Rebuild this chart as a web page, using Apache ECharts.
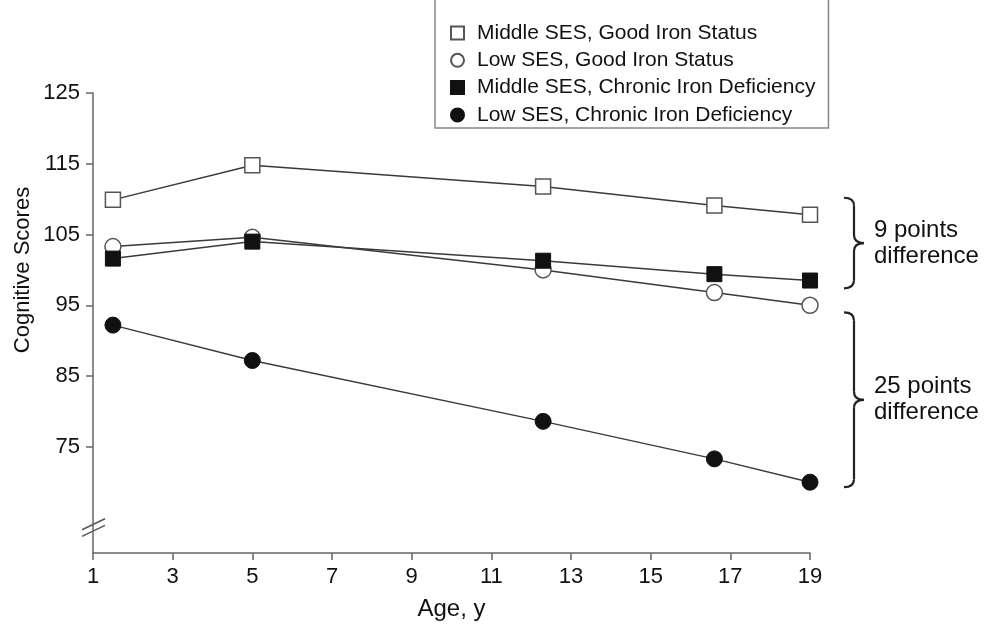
<!DOCTYPE html>
<html>
<head>
<meta charset="utf-8">
<script src="https://cdn.jsdelivr.net/npm/echarts@6/dist/echarts.min.js"></script>
<style>
html, body { margin: 0; padding: 0; background: #fff; }
#main { width: 988px; height: 627px; }
</style>
</head>
<body>
<div id="main"></div>
<script>
var ages = [1.5, 5, 12.3, 16.6, 19];
var midGood = [109.9, 114.8, 111.8, 109.1, 107.8];
var lowGood = [103.3, 104.6, 100.0, 96.8, 95.0];
var midChronic = [101.6, 104.0, 101.3, 99.4, 98.5];
var lowChronic = [92.2, 87.2, 78.6, 73.3, 70.0];

var seriesNames = [
	'Middle SES, Good Iron Status',
	'Low SES, Good Iron Status',
	'Middle SES, Chronic Iron Deficiency',
	'Low SES, Chronic Iron Deficiency'
];
var xTicks = [1, 3, 5, 7, 9, 11, 13, 15, 17, 19];
var yTicks = [75, 85, 95, 105, 115, 125];

// brace annotations on the right: [top, bottom] in score units
var braceRanges = [[110.2, 97.4], [94.0, 69.3]];
var braceLabels = ['9 points\ndifference', '25 points\ndifference'];
var axisBreakAt = 63.6;

var sans = "'Liberation Sans', Arial, sans-serif";

function pairs(ys) {
	var out = [];
	for (var i = 0; i < ages.length; i++) {
		out.push([ages[i], ys[i]]);
	}
	return out;
}

function makeSeries(name, ys, symbol, filled) {
	return {
		name: name,
		type: 'line',
		data: pairs(ys),
		symbol: symbol,
		symbolSize: symbol == 'rect' ? 15 : 16,
		showAllSymbol: true,
		lineStyle: { color: '#3a3a3a', width: 1.5 },
		itemStyle: filled ? { color: '#111', borderColor: '#111', borderWidth: 1 }
		                  : { color: '#fff', borderColor: '#555', borderWidth: 1.5 },
		emphasis: { disabled: true },
		z: filled ? 3 : 2
	};
}

var chart = echarts.init(document.getElementById('main'));

var option = {
	animation: false,
	grid: { left: 93, right: 178, top: 93, bottom: 74 },
	legend: {
		orient: 'vertical',
		left: 435,
		top: -5,
		padding: [27, 13, 2, 15],
		itemGap: 5.3,
		itemWidth: 13,
		itemHeight: 13,
		borderColor: '#888',
		borderWidth: 1.5,
		textStyle: { fontFamily: sans, fontSize: 21, lineHeight: 22, color: '#111', padding: [0, 0, 0, 8] },
		data: [
			{ name: seriesNames[0], icon: 'rect' },
			{ name: seriesNames[1], icon: 'circle' },
			{ name: seriesNames[2], icon: 'rect' },
			{ name: seriesNames[3], icon: 'circle' }
		]
	},
	xAxis: {
		type: 'value',
		min: 1,
		max: 19,
		name: 'Age, y',
		nameLocation: 'middle',
		nameGap: 44,
		nameTextStyle: { fontFamily: sans, fontSize: 24, color: '#111' },
		splitLine: { show: false },
		axisLine: { lineStyle: { color: '#666', width: 1.5 } },
		axisTick: { length: 7, lineStyle: { color: '#666', width: 1.5 }, customValues: xTicks },
		axisLabel: { fontFamily: sans, fontSize: 22, color: '#111', margin: 13, customValues: xTicks }
	},
	yAxis: {
		type: 'value',
		min: 60,
		max: 125,
		splitLine: { show: false },
		axisLine: { show: true, lineStyle: { color: '#666', width: 1.5 } },
		axisTick: { show: true, length: 7, lineStyle: { color: '#666', width: 1.5 }, customValues: yTicks },
		axisLabel: { fontFamily: sans, fontSize: 22, color: '#111', margin: 13, customValues: yTicks }
	},
	series: [
		makeSeries(seriesNames[0], midGood, 'rect', false),
		makeSeries(seriesNames[1], lowGood, 'circle', false),
		makeSeries(seriesNames[2], midChronic, 'rect', true),
		makeSeries(seriesNames[3], lowChronic, 'circle', true)
	]
};

chart.setOption(option);

// annotations placed through the axes
function px(x, y) {
	return chart.convertToPixel({ gridIndex: 0 }, [x, y]);
}

var ink = { stroke: '#222', lineWidth: 2.2, fill: null };
var graphics = [];

var axisX = px(1, 60)[0];
var breakY = px(1, axisBreakAt)[1];
[-3.3, 3.3].forEach(function (d) {
	graphics.push({
		type: 'line',
		shape: { x1: axisX - 11, y1: breakY + d + 5.5, x2: axisX + 12, y2: breakY + d - 5.5 },
		style: { stroke: '#555', lineWidth: 1.5 }
	});
});

function curve(x1, y1, cx, cy, x2, y2) {
	return { type: 'bezierCurve', shape: { x1: x1, y1: y1, cpx1: cx, cpy1: cy, x2: x2, y2: y2 }, style: ink };
}
function seg(x1, y1, x2, y2) {
	return { type: 'line', shape: { x1: x1, y1: y1, x2: x2, y2: y2 }, style: ink };
}

var braceX = px(19, 60)[0] + 34;
for (var i = 0; i < braceRanges.length; i++) {
	var y0 = px(19, braceRanges[i][0])[1];
	var y1 = px(19, braceRanges[i][1])[1];
	var ym = (y0 + y1) / 2;
	var a = braceX, b = braceX + 10, c = braceX + 20;
	graphics.push(curve(a, y0, b, y0, b, y0 + 8));
	graphics.push(seg(b, y0 + 8, b, ym - 8));
	graphics.push(curve(b, ym - 8, b, ym, c, ym));
	graphics.push(curve(c, ym, b, ym, b, ym + 8));
	graphics.push(seg(b, ym + 8, b, y1 - 8));
	graphics.push(curve(b, y1 - 8, b, y1, a, y1));
	graphics.push({
		type: 'text',
		x: braceX + 30,
		y: ym,
		style: {
			text: braceLabels[i],
			fontFamily: sans,
			fontSize: 24,
			lineHeight: 26,
			fill: '#111',
			align: 'left',
			verticalAlign: 'middle'
		}
	});
}

graphics.push({
	type: 'text',
	x: 23,
	y: 270,
	rotation: Math.PI / 2,
	style: {
		text: 'Cognitive Scores',
		fontFamily: sans,
		fontSize: 22,
		fill: '#111',
		align: 'center',
		verticalAlign: 'middle'
	}
});

chart.setOption({ graphic: graphics });
</script>
</body>
</html>
